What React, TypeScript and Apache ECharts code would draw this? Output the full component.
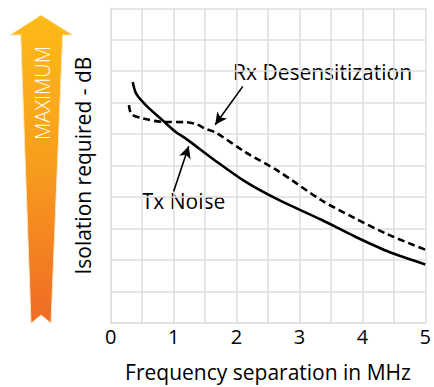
import React, { useEffect, useRef } from "react";
import * as echarts from "echarts";

// Tx Noise (solid) — frequency separation (MHz) vs isolation (grid units)
const txX = [0.35, 0.41, 0.57, 0.83, 1.04, 1.2, 1.62, 2.14, 2.67, 3.35, 3.88, 4.4, 5.0];
const txY = [7.66, 7.27, 6.9, 6.43, 6.06, 5.85, 5.22, 4.49, 3.91, 3.28, 2.75, 2.28, 1.86];

// Rx Desensitization (dashed)
const rxX = [0.29, 0.33, 0.51, 0.83, 1.2, 1.36, 1.51, 1.67, 2.14, 2.67, 3.35, 3.88, 4.4, 5.0];
const rxY = [6.92, 6.64, 6.5, 6.39, 6.38, 6.32, 6.17, 6.05, 5.43, 4.82, 3.9, 3.33, 2.82, 2.33];

const xTicks = [0, 1, 2, 3, 4, 5];
const xName = "Frequency separation in MHz";
const yName = "Isolation required - dB";
const rxLabel = "Rx Desensitization";
const txLabel = "Tx Noise";
const maxLabel = "MAXIMUM";

// annotation arrows (data coords): [from, to]
const rxArrow = [[2.1, 7.52], [1.66, 6.3]];
const txArrow = [[1.0, 4.18], [1.24, 5.62]];

const FONT = "Open Sans";

export default function App() {
  const ref = useRef<HTMLDivElement>(null);
  useEffect(() => {
    if (!ref.current) return;
    const chart = echarts.init(ref.current, null, { renderer: "svg" });
    const gridColor = "#dedede";
    const arrowLine = (pts: number[][]) => ({
      silent: true,
      symbol: ["none", "arrow"],
      symbolSize: [9, 12],
      label: { show: false },
      lineStyle: { color: "#000", width: 1.6, type: "solid" },
      emphasis: { disabled: true },
      data: [[{ coord: pts[0] }, { coord: pts[1] }]],
    });
    chart.setOption({
      animation: false,
      grid: { left: 110.7, right: 6, top: 8.3, bottom: 61.3 },
      xAxis: {
        type: "value",
        min: 0,
        max: 5,
        interval: 0.5,
        name: xName,
        nameLocation: "middle",
        nameGap: 38,
        nameTextStyle: { fontFamily: FONT, fontSize: 21, color: "#000" },
        axisLine: { show: true, lineStyle: { color: gridColor, width: 1.5 } },
        axisTick: { show: false },
        axisLabel: {
          fontFamily: FONT,
          fontSize: 20,
          color: "#000",
          margin: 3,
          formatter: (v: number) => (xTicks.includes(v) ? String(v) : ""),
        },
        splitLine: { show: true, lineStyle: { color: gridColor, width: 1.5 } },
      },
      yAxis: {
        type: "value",
        min: 0,
        max: 10,
        interval: 1,
        name: yName,
        nameLocation: "middle",
        nameGap: 17,
        nameTextStyle: { fontFamily: FONT, fontSize: 21, color: "#000" },
        axisLine: { show: true, lineStyle: { color: gridColor, width: 1.5 } },
        axisTick: { show: false },
        axisLabel: { show: false },
        splitLine: { show: true, lineStyle: { color: gridColor, width: 1.5 } },
      },
      series: [
        {
          type: "line",
          name: txLabel,
          data: txX.map((x, i) => [x, txY[i]]),
          smooth: 0.3,
          showSymbol: false,
          lineStyle: { color: "#000", width: 2.6 },
          markLine: arrowLine(txArrow),
        },
        {
          type: "line",
          name: rxLabel,
          data: rxX.map((x, i) => [x, rxY[i]]),
          smooth: 0.3,
          showSymbol: false,
          lineStyle: { color: "#000", width: 2.6, type: [7, 4] },
          markLine: arrowLine(rxArrow),
        },
      ],
      graphic: [
        {
          type: "polygon",
          shape: {
            points: [
              [41, 15],
              [72.7, 35],
              [62.7, 35],
              [51, 323.3],
              [41, 315],
              [31, 323.3],
              [20.7, 35],
              [10, 35],
            ],
          },
          style: {
            fill: new echarts.graphic.LinearGradient(0, 0, 0, 1, [
              { offset: 0, color: "#fdbb16" },
              { offset: 0.5, color: "#f79c1e" },
              { offset: 1, color: "#f06a25" },
            ]),
            stroke: "#fde7c4",
            lineWidth: 1,
          },
        },
        {
          type: "text",
          x: 42.5,
          y: 93,
          rotation: Math.PI / 2,
          style: {
            text: maxLabel,
            fill: "#fff",
            font: `300 20px "${FONT}"`,
            align: "center",
            verticalAlign: "middle",
          },
        },
        {
          type: "text",
          x: 233,
          y: 72,
          style: {
            text: rxLabel,
            fill: "#000",
            font: `21px "${FONT}"`,
            align: "left",
            verticalAlign: "middle",
          },
        },
        {
          type: "text",
          x: 141.7,
          y: 200.7,
          style: {
            text: txLabel,
            fill: "#000",
            font: `21px "${FONT}"`,
            align: "left",
            verticalAlign: "middle",
          },
        },
      ],
    });
    return () => chart.dispose();
  }, []);
  return (
    <div
      ref={ref}
      style={{ position: "absolute", left: 0, top: 0, width: 434, height: 387 }}
    />
  );
}
